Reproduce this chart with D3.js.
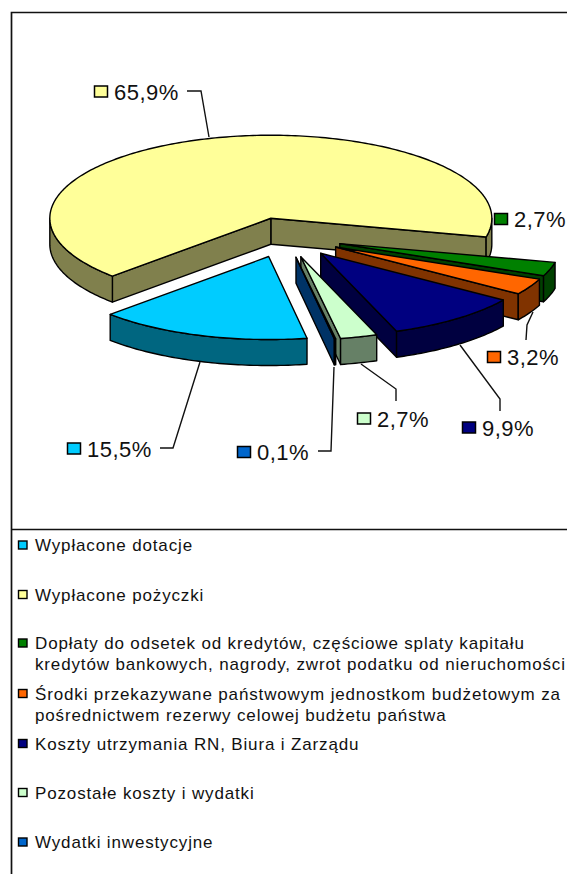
<!DOCTYPE html>
<html><head><meta charset="utf-8">
<script src="https://cdn.jsdelivr.net/npm/d3@7/dist/d3.min.js"></script>
<style>html,body{margin:0;padding:0;background:#fff}svg{display:block}text{font-family:"Liberation Sans",Arial,sans-serif;fill:#111}</style>
</head><body><div id="chart"></div>
<script>
const categories=["Wypłacone dotacje","Wypłacone pożyczki","Dopłaty do odsetek od kredytów, częściowe splaty kapitału|kredytów bankowych, nagrody, zwrot podatku od nieruchomości","Środki przekazywane państwowym jednostkom budżetowym za|pośrednictwem rezerwy celowej budżetu państwa","Koszty utrzymania RN, Biura i Zarządu","Pozostałe koszty i wydatki","Wydatki inwestycyjne"];
const values=[15.5,65.9,2.7,3.2,9.9,2.7,0.1];
const labels=["15,5%","65,9%","2,7%","3,2%","9,9%","2,7%","0,1%"];
const colors=["#00CCFF","#FFFF99","#008000","#FF6600","#000080","#CCFFCC","#0066CC"];
const drawOrder=[1,2,3,4,5,6,0];

const W=567,H=874;
const svg=d3.select("#chart").append("svg").attr("width",W).attr("height",H);
svg.append("rect").attr("width",W).attr("height",H).attr("fill","#fff");
const cx=286,cy=237.5,rx=221,ry=83,depth=26,explodeX=56.5/221,explodeY=20/83;
const sx=d3.scaleLinear().domain([-1,1]).range([-rx,rx]);
const sy=d3.scaleLinear().domain([-1,1]).range([-ry,ry]);
const deg=Math.PI/180;
const arcs=d3.pie().sort(null).startAngle(170*deg).endAngle(530*deg)(values);
const line=d3.line();
const half=c=>{const k=d3.rgb(c);return d3.rgb(k.r/2,k.g/2,k.b/2).formatHex();};
const g=svg.append("g");
function apex(a){const m=(a.startAngle+a.endAngle)/2;return [cx+sx(Math.sin(m)*explodeX),cy+sy(-Math.cos(m)*explodeY)];}
function pt(a,t,dz=0){const p=apex(a);return [p[0]+sx(Math.sin(t)),p[1]+sy(-Math.cos(t))+dz];}
function rim(a,t0,t1,dz=0){const n=Math.max(2,Math.ceil((t1-t0)/(1*deg)));return d3.range(n+1).map(i=>pt(a,t0+(t1-t0)*i/n,dz));}
function style(sel,c){return sel.attr("fill",c).attr("stroke","#000").attr("stroke-width",1.4).attr("stroke-linejoin","round");}
drawOrder.forEach(i=>{
  const a=arcs[i],c=colors[i],d=half(c),p=apex(a),s=g.append("g");
  const wall=t=>[p,pt(a,t),pt(a,t,depth),[p[0],p[1]+depth]];
  if(Math.sin(a.endAngle)>0) style(s.append("path").attr("d",line(wall(a.endAngle))+"Z"),d);
  if(Math.sin(a.startAngle)<0) style(s.append("path").attr("d",line(wall(a.startAngle))+"Z"),d);
  [[90,270],[450,630]].forEach(([lo,hi])=>{
    const t0=Math.max(a.startAngle,lo*deg),t1=Math.min(a.endAngle,hi*deg);
    if(t1>t0) style(s.append("path").attr("d",line(rim(a,t0,t1).concat(rim(a,t0,t1,depth).reverse()))+"Z"),d);
  });
  style(s.append("path").attr("d",line([p].concat(rim(a,a.startAngle,a.endAngle)))+"Z"),c);
});
// frame
const fr=svg.append("g").attr("stroke","#111").attr("stroke-width",1.7).attr("fill","none");
fr.append("path").attr("d","M11.5,874V12.5H567");
fr.append("path").attr("d","M11.5,529.5H567");
// data labels: [swatch x, centre y]
const lblPos=[[67,448.5],[94,91.5],[494,219],[487,357],[462,427.5],[357,418.5],[237,452]];
const sw=svg.append("g");
labels.forEach((t,i)=>{
  const [x,y]=lblPos[i];
  sw.append("rect").attr("x",x+.5).attr("y",y-5.5).attr("width",13).attr("height",11).attr("fill",colors[i]).attr("stroke","#000").attr("stroke-width",1.5);
  sw.append("text").attr("x",x+20).attr("y",y+8).attr("font-size",22).attr("letter-spacing",0.5).text(t);
});
const leaders=[
 [[160,448],[173,448],[200,362]],
 [[187,91],[201,91],[209,137]],
 [[526,340],[527,325],[533,312]],
 [[500,411],[500,399],[460,345]],
 [[396,401],[396,389],[361,364]],
 [[318,451],[331,451],[334,367]]
];
svg.append("g").selectAll("path").data(leaders).join("path").attr("d",d=>line(d)).attr("fill","none").attr("stroke","#111").attr("stroke-width",1.4);
// legend
const rows=[545,594.5,643,693.5,743.5,792.5,842];
const leg=svg.append("g");
categories.forEach((c,i)=>{
  const y=rows[i];
  leg.append("rect").attr("x",18.5).attr("y",y-4).attr("width",8.5).attr("height",8).attr("fill",colors[i]).attr("stroke","#000").attr("stroke-width",1.4);
  c.split("|").forEach((t,j)=>leg.append("text").attr("x",35).attr("y",y+6+j*21).attr("font-size",17).attr("letter-spacing",0.85).text(t));
});
</script></body></html>
